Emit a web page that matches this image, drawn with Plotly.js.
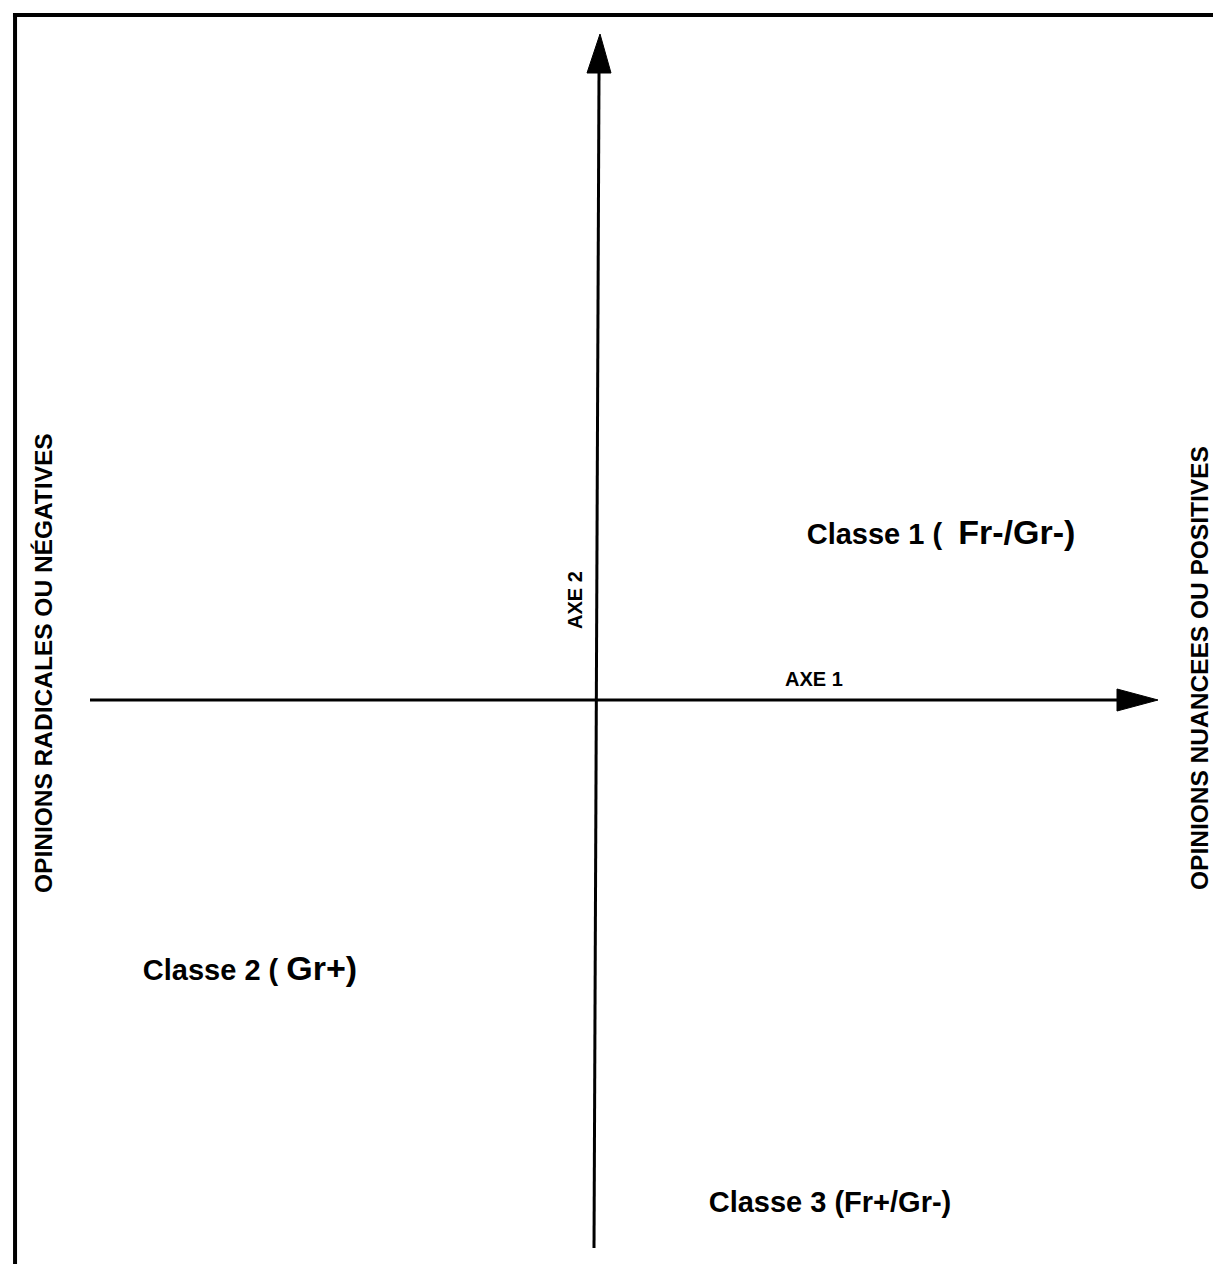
<!DOCTYPE html>
<html>
<head>
<meta charset="utf-8">
<script src="https://cdn.plot.ly/plotly-3.0.1.min.js"></script>
<style>html,body{margin:0;padding:0;background:#fff;}</style>
</head>
<body>
<div id="chart" style="width:1213px;height:1264px;"></div>
<script>
// Factorial plane: units of the two axes (origin = crossing point)
const axis1X = [-5.05, 5.22];
const axis1Y = [0, 0];
const axis1HeadX = [5.22, 5.63, 5.22, 5.22];
const axis1HeadY = [0.11, 0, -0.11, 0.11];

const axis2X = [-0.01, 0.04];
const axis2Y = [-5.48, 6.27];
const axis2HeadX = [-0.08, 0.05, 0.16, -0.08];
const axis2HeadY = [6.27, 6.66, 6.27, 6.27];

const axisNames = ["AXE 1", "AXE 2"];
const axisNameX = [2.19, -0.2];
const axisNameY = [0.21, 1.0];

const classLabels = [
  'Classe 1 (\u00a0\u00a0<span style="font-size:34px">Fr-/Gr-)</span>',
  'Classe 2 (\u00a0<span style="font-size:34px">Gr+)</span>',
  'Classe 3 (Fr+/Gr-)'
];
const classX = [3.46, -3.45, 2.35];
const classY = [1.63, -2.73, -5.05];

const sideLabels = ["OPINIONS RADICALES OU NÉGATIVES", "OPINIONS NUANCEES OU POSITIVES"];
const sideX = [-5.52, 6.04];
const sideY = [0.37, 0.32];

const FONT = "Liberation Sans, Arial, Helvetica, sans-serif";

const traces = [
  {x: axis1X, y: axis1Y, mode: "lines", line: {color: "#000", width: 3}, hoverinfo: "skip"},
  {x: axis1HeadX, y: axis1HeadY, mode: "lines", fill: "toself", fillcolor: "#000", line: {color: "#000", width: 1}, hoverinfo: "skip"},
  {x: axis2X, y: axis2Y, mode: "lines", line: {color: "#000", width: 3}, hoverinfo: "skip"},
  {x: axis2HeadX, y: axis2HeadY, mode: "lines", fill: "toself", fillcolor: "#000", line: {color: "#000", width: 1}, hoverinfo: "skip"},
  {x: classX, y: classY, mode: "text", text: classLabels, textposition: "middle center",
   textfont: {family: FONT, size: 29, color: "#000", weight: "bold"}, hoverinfo: "skip"}
];

const annotations = [];
for (let i = 0; i < axisNames.length; i++) {
  annotations.push({x: axisNameX[i], y: axisNameY[i], xref: "x", yref: "y", text: axisNames[i],
    showarrow: false, textangle: i === 1 ? -90 : 0,
    font: {family: FONT, size: 20, color: "#000", weight: "bold"}});
}
for (let i = 0; i < sideLabels.length; i++) {
  annotations.push({x: sideX[i], y: sideY[i], xref: "x", yref: "y", text: sideLabels[i],
    showarrow: false, textangle: -90,
    font: {family: FONT, size: 24.5, color: "#000", weight: "bold"}});
}

const layout = {
  width: 1213, height: 1264,
  margin: {l: 0, r: 0, t: 0, b: 0},
  paper_bgcolor: "#fff", plot_bgcolor: "#fff",
  showlegend: false,
  xaxis: {range: [-5.95, 6.18], visible: false, fixedrange: true},
  yaxis: {range: [-5.64, 7.00], visible: false, fixedrange: true},
  annotations: annotations,
  shapes: [
    {type: "line", xref: "paper", yref: "paper", x0: 0.0107, x1: 1, y0: 0.9881, y1: 0.9881, line: {color: "#000", width: 4}},
    {type: "line", xref: "paper", yref: "paper", x0: 0.0124, x1: 0.0124, y0: 0, y1: 0.9897, line: {color: "#000", width: 4}}
  ]
};

Plotly.newPlot("chart", traces, layout, {displayModeBar: false, staticPlot: true});
</script>
</body>
</html>
